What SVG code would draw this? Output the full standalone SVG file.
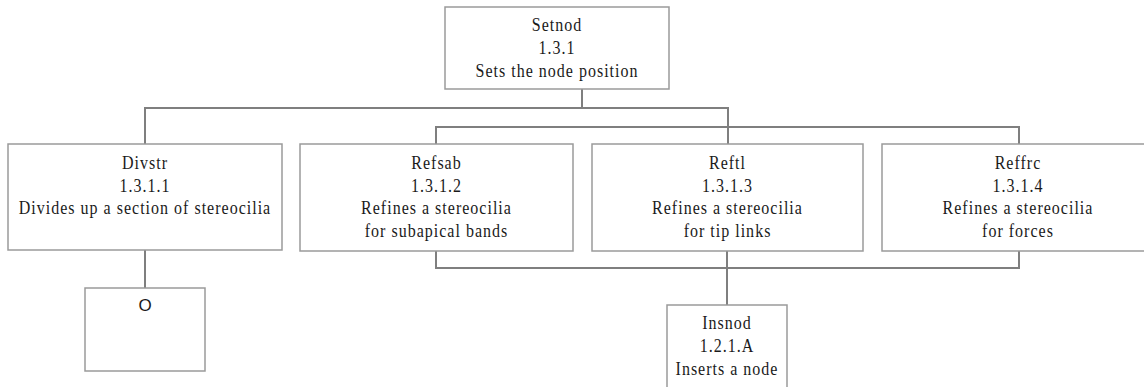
<svg xmlns="http://www.w3.org/2000/svg" width="1144" height="387" viewBox="0 0 1144 387">
<style>
.box{fill:#fff;stroke:#9a9a9a;stroke-width:1.5}
.t{font-family:"Liberation Serif","Times New Roman",serif;font-size:19px;letter-spacing:1.2px;fill:#1a1a1a;text-anchor:middle}
.s{font-family:"Liberation Sans",Arial,sans-serif;font-size:17px;fill:#1a1a1a;text-anchor:middle}
.c{fill:none;stroke:#7f7f7f;stroke-width:2}
</style>
<rect width="1144" height="387" fill="#fff"/>
<g id="connectors">
<path class="c" d="M582,89V108M145,144V108H728V144M436,144V127H1019V144"/>
<path class="c" d="M145,250V288"/>
<path class="c" d="M436,251V268H1019V251M727,251V305"/>
</g>
<g id="setnod">
<rect class="box" x="445" y="7" width="224" height="82"/>
<g transform="translate(557 0) scale(0.8421 1)">
<text class="t" x="0" y="31">Setnod</text>
<text class="t" x="0" y="54">1.3.1</text>
<text class="t" x="0" y="77">Sets the node position</text>
</g>
</g>
<g id="divstr">
<rect class="box" x="8" y="144" width="274" height="106"/>
<g transform="translate(145 0) scale(0.8421 1)">
<text class="t" x="0" y="169">Divstr</text>
<text class="t" x="0" y="192">1.3.1.1</text>
<text class="t" x="0" y="214">Divides up a section of stereocilia</text>
</g>
</g>
<g id="refsab">
<rect class="box" x="300" y="144" width="273" height="107"/>
<g transform="translate(436.5 0) scale(0.8421 1)">
<text class="t" x="0" y="169">Refsab</text>
<text class="t" x="0" y="192">1.3.1.2</text>
<text class="t" x="0" y="214">Refines a stereocilia</text>
<text class="t" x="0" y="237">for subapical bands</text>
</g>
</g>
<g id="reftl">
<rect class="box" x="592" y="144" width="271" height="107"/>
<g transform="translate(727.5 0) scale(0.8421 1)">
<text class="t" x="0" y="169">Reftl</text>
<text class="t" x="0" y="192">1.3.1.3</text>
<text class="t" x="0" y="214">Refines a stereocilia</text>
<text class="t" x="0" y="237">for tip links</text>
</g>
</g>
<g id="reffrc">
<rect class="box" x="882" y="144" width="274" height="107"/>
<g transform="translate(1018 0) scale(0.8421 1)">
<text class="t" x="0" y="169">Reffrc</text>
<text class="t" x="0" y="192">1.3.1.4</text>
<text class="t" x="0" y="214">Refines a stereocilia</text>
<text class="t" x="0" y="237">for forces</text>
</g>
</g>
<g id="o">
<rect class="box" x="85" y="288" width="120" height="83"/>
<text class="s" x="145" y="311">O</text>
</g>
<g id="insnod">
<rect class="box" x="667" y="305" width="120" height="100"/>
<g transform="translate(727 0) scale(0.8421 1)">
<text class="t" x="0" y="329">Insnod</text>
<text class="t" x="0" y="352">1.2.1.A</text>
<text class="t" x="0" y="375">Inserts a node</text>
</g>
</g>
</svg>
